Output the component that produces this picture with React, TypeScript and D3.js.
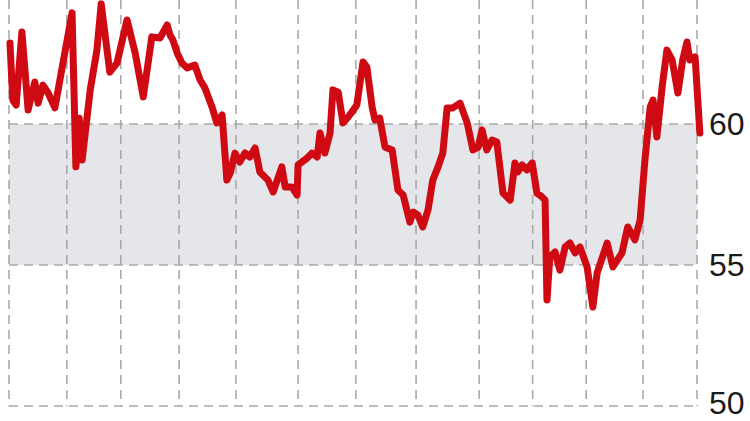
import React, { useEffect, useRef } from "react";
import * as d3 from "d3";

// months since start of series
const months = [
  0.2, 0.8, 1.5, 2.7, 4.0, 5.4, 6.1, 7.1, 8.2, 9.6, 13.2, 14.0, 14.7, 15.3, 17.0, 18.4, 19.3, 21.1, 22.6, 24.7,
  26.4, 28.1, 29.9, 31.6, 33.1, 33.7, 34.3, 35.2, 36.2, 37.3, 38.9, 40.0, 41.0, 42.5, 43.5, 44.6, 45.6, 46.3,
  47.3, 48.3, 49.4, 50.4, 51.5, 52.5, 54.2, 55.3, 57.1, 57.8, 59.2, 60.3, 60.5, 62.4, 63.4, 64.5, 65.1, 66.1,
  67.2, 67.8, 68.9, 69.9, 71.0, 71.8, 72.8, 74.1, 74.9, 76.0, 76.6, 77.6, 78.7, 80.2, 81.4, 82.5, 83.9, 84.6,
  85.6, 86.6, 87.7, 88.7, 89.8, 90.8, 91.7, 92.9, 94.4, 95.9, 97.1, 98.2, 99.0, 100.0, 101.1, 102.1, 103.4,
  104.9, 105.9, 106.5, 107.4, 108.4, 109.5, 110.5, 111.6, 112.2, 112.6, 113.2, 114.3, 115.3, 116.4, 117.4,
  118.5, 119.5, 121.0, 122.2, 123.1, 125.2, 126.4, 128.3, 129.5, 131.0, 132.1, 133.1, 134.2, 134.8, 135.6,
  136.7, 137.7, 138.8, 140.0, 141.0, 141.9, 142.5, 143.6, 144.6,
];

const values = [
  62.87, 60.85, 60.67, 63.26, 60.5, 61.49, 60.74, 61.38, 61.1, 60.57, 63.94, 58.48, 60.2, 58.72, 61.21, 62.62,
  64.26, 61.84, 62.16, 63.69, 62.52, 60.96, 63.09, 63.05, 63.51, 63.16, 62.98, 62.52, 62.16, 61.99, 62.09,
  61.56, 61.28, 60.6, 60.04, 60.32, 58.01, 58.26, 58.97, 58.65, 58.97, 58.83, 59.15, 58.3, 58.01, 57.59,
  58.48, 57.77, 57.77, 57.48, 58.55, 58.79, 58.97, 58.83, 59.68, 58.97, 59.68, 61.21, 61.13, 60.04, 60.25,
  60.43, 60.67, 62.2, 62.02, 60.6, 60.14, 60.21, 59.18, 59.08, 57.66, 57.48, 56.52, 56.88, 56.77, 56.35,
  56.95, 58.01, 58.48, 58.97, 60.57, 60.57, 60.74, 60.04, 59.08, 59.18, 59.79, 59.08, 59.43, 59.36, 57.55,
  57.3, 58.62, 58.3, 58.55, 58.37, 58.62, 57.55, 57.41, 57.3, 53.76, 55.28, 55.46, 54.82, 55.64, 55.78,
  55.43, 55.64, 54.93, 53.51, 54.72, 55.78, 54.93, 55.43, 56.35, 55.89, 56.6, 58.72, 60.6, 60.85, 59.54,
  61.31, 62.62, 62.27, 61.1, 62.27, 62.91, 62.27, 62.38, 59.68,
];

// vertical grid lines (year boundaries, in months)
const gridMonths = [0, 12.1, 23.4, 35.6, 47.5, 60.5, 72.6, 85.2, 98.4, 109.6, 120.8, 132.7, 144];
const yTicks = [50, 55, 60];
const band = [55, 60];

const App = () => {
  const svgRef = useRef<SVGSVGElement>(null);

  useEffect(() => {
    const svg = d3.select(svgRef.current);
    svg.selectAll("*").remove();

    const x = d3.scaleLinear().domain([0, 144]).range([9, 697]);
    const y = d3.scaleLinear().domain([50, 60]).range([406, 124]);

    svg.append("rect")
      .attr("x", x(0)).attr("width", x(144) - x(0))
      .attr("y", y(band[1])).attr("height", y(band[0]) - y(band[1]))
      .attr("fill", "#e4e6ea");

    const dash = "9,6";
    svg.append("g").selectAll("line").data(gridMonths).enter().append("line")
      .attr("x1", (d) => x(d)).attr("x2", (d) => x(d))
      .attr("y1", 0).attr("y2", y(50))
      .attr("stroke", "#a9a9a9").attr("stroke-width", 1.6).attr("stroke-dasharray", dash);

    svg.append("g").selectAll("line").data(yTicks).enter().append("line")
      .attr("x1", x(0)).attr("x2", x(144))
      .attr("y1", (d) => y(d)).attr("y2", (d) => y(d))
      .attr("stroke", "#a9a9a9").attr("stroke-width", 1.6).attr("stroke-dasharray", dash);

    // bottom label sits on the picture edge, keep it inside
    svg.append("g").selectAll("text").data(yTicks).enter().append("text")
      .attr("x", 709).attr("y", (d) => Math.min(y(d) + 11, 414))
      .attr("font-family", "Liberation Sans, Arial, sans-serif")
      .attr("font-size", 32).attr("fill", "#1a1a1a")
      .text((d) => d);

    const line = d3.line<number>()
      .x((d, i) => x(months[i]))
      .y((d) => y(d));

    svg.append("path").datum(values)
      .attr("d", line)
      .attr("fill", "none").attr("stroke", "#cf0a12")
      .attr("stroke-width", 7).attr("stroke-linejoin", "round").attr("stroke-linecap", "round");
  }, []);

  return <svg ref={svgRef} width={750} height={421} style={{ position: "absolute", left: 0, top: 0 }}></svg>;
};

export default App;
